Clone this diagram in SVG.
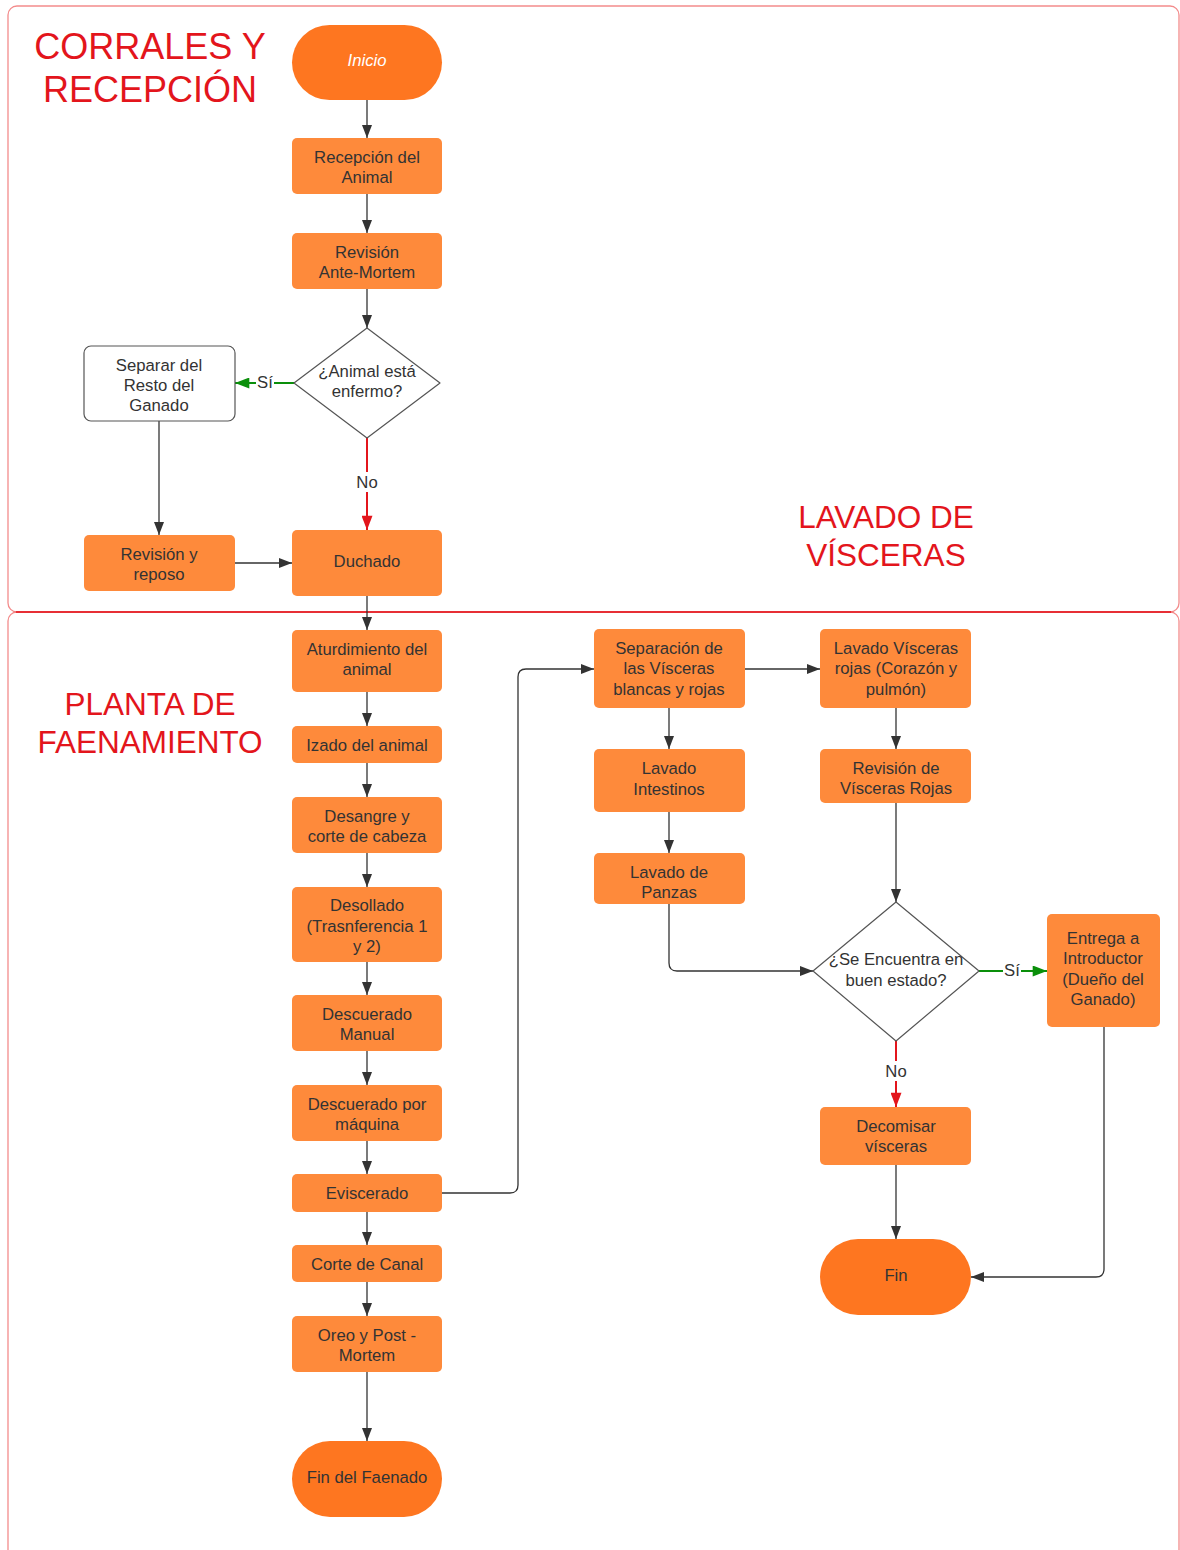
<svg xmlns="http://www.w3.org/2000/svg" width="1180" height="1550" viewBox="0 0 1180 1550">
<style>
.lane{fill:none;stroke:#ee5a5a;stroke-opacity:0.7;stroke-width:1.3}
.title{font-family:"Liberation Sans",Arial,sans-serif;fill:#e3151c;text-anchor:middle}
.box{fill:#fe8a3b}
.term{fill:#fe7620}
.white{fill:#fff;stroke:#555;stroke-width:1.2}
.t{font-family:"Liberation Sans",Arial,sans-serif;font-size:16.7px;fill:#333;text-anchor:middle}
.c{fill:none;stroke:#333;stroke-width:1.3}
.g{fill:none;stroke:#0a8f0a;stroke-width:2}
.r{fill:none;stroke:#e3151c;stroke-width:2}
.lbl{font-family:"Liberation Sans",Arial,sans-serif;font-size:16.7px;fill:#333;text-anchor:middle}
</style>
<defs>
<marker id="a" viewBox="0 0 13 10" markerWidth="13" markerHeight="10" markerUnits="userSpaceOnUse" refX="13" refY="5" orient="auto"><path d="M0,0L13,5L0,10z" fill="#333"/></marker>
<marker id="ag" viewBox="0 0 13 10" markerWidth="15" markerHeight="11" markerUnits="userSpaceOnUse" refX="13" refY="5" orient="auto"><path d="M0,0L13,5L0,10z" fill="#0a8f0a"/></marker>
<marker id="ar" viewBox="0 0 13 10" markerWidth="15" markerHeight="11" markerUnits="userSpaceOnUse" refX="13" refY="5" orient="auto"><path d="M0,0L13,5L0,10z" fill="#e3151c"/></marker>
</defs>

<g id="lanes">
<rect class="lane" x="8" y="6" width="1171" height="606" rx="9"/>
<rect class="lane" x="8" y="612" width="1171" height="960" rx="9"/>
<line x1="16" y1="612" x2="1171" y2="612" stroke="#e3151c" stroke-width="1.3"/>
<text class="title" font-size="36" x="150" y="59">CORRALES Y</text>
<text class="title" font-size="36" x="150" y="102">RECEPCIÓN</text>
<text class="title" font-size="31.5" x="886" y="528">LAVADO DE</text>
<text class="title" font-size="31.5" x="886" y="566">VÍSCERAS</text>
<text class="title" font-size="31.5" x="150" y="715">PLANTA DE</text>
<text class="title" font-size="31.5" x="150" y="753">FAENAMIENTO</text>
</g>

<g id="connectors">
<path class="c" d="M367,100V138" marker-end="url(#a)"/>
<path class="c" d="M367,194V233" marker-end="url(#a)"/>
<path class="c" d="M367,289V328" marker-end="url(#a)"/>
<path class="g" d="M294,383H235" marker-end="url(#ag)"/>
<rect x="256" y="373" width="18" height="18" fill="#fff"/>
<text class="lbl" x="265" y="388">Sí</text>
<path class="r" d="M367,438V530" marker-end="url(#ar)"/>
<rect x="354" y="472" width="26" height="20" fill="#fff"/>
<text class="lbl" x="367" y="488">No</text>
<path class="c" d="M159,421V535" marker-end="url(#a)"/>
<path class="c" d="M235,563H292" marker-end="url(#a)"/>
<path class="c" d="M367,596V630" marker-end="url(#a)"/>
<path class="c" d="M367,692V726" marker-end="url(#a)"/>
<path class="c" d="M367,763V797" marker-end="url(#a)"/>
<path class="c" d="M367,853V887" marker-end="url(#a)"/>
<path class="c" d="M367,962V995" marker-end="url(#a)"/>
<path class="c" d="M367,1051V1085" marker-end="url(#a)"/>
<path class="c" d="M367,1141V1174" marker-end="url(#a)"/>
<path class="c" d="M367,1212V1245" marker-end="url(#a)"/>
<path class="c" d="M367,1282V1316" marker-end="url(#a)"/>
<path class="c" d="M367,1372V1441" marker-end="url(#a)"/>
<path class="c" d="M442,1193H510Q518,1193 518,1185V677Q518,669 526,669H594" marker-end="url(#a)"/>
<path class="c" d="M745,669H820" marker-end="url(#a)"/>
<path class="c" d="M669,708V749" marker-end="url(#a)"/>
<path class="c" d="M669,812V853" marker-end="url(#a)"/>
<path class="c" d="M896,708V749" marker-end="url(#a)"/>
<path class="c" d="M896,803V902" marker-end="url(#a)"/>
<path class="c" d="M669,904V963Q669,971 677,971H813" marker-end="url(#a)"/>
<path class="g" d="M979,971H1047" marker-end="url(#ag)"/>
<rect x="1003" y="961" width="18" height="18" fill="#fff"/>
<text class="lbl" x="1012" y="976">Sí</text>
<path class="r" d="M896,1041V1107" marker-end="url(#ar)"/>
<rect x="883" y="1061" width="26" height="20" fill="#fff"/>
<text class="lbl" x="896" y="1077">No</text>
<path class="c" d="M896,1165V1239" marker-end="url(#a)"/>
<path class="c" d="M1104,1027V1269Q1104,1277 1096,1277H971" marker-end="url(#a)"/>
</g>

<g id="inicio"><rect class="term" x="292" y="25" width="150" height="75" rx="37.5"/><text class="t" x="367" y="66" style="fill:#fff;font-style:italic">Inicio</text></g>
<g id="recepcion"><rect class="box" x="292" y="138" width="150" height="56" rx="5"/><text class="t" x="367" y="163">Recepción del</text><text class="t" x="367" y="183">Animal</text></g>
<g id="antemortem"><rect class="box" x="292" y="233" width="150" height="56" rx="5"/><text class="t" x="367" y="258">Revisión</text><text class="t" x="367" y="278">Ante-Mortem</text></g>
<g id="enfermo"><path class="white" stroke-linejoin="round" d="M367,328L440,383L367,438L294,383Z"/><text class="t" x="367" y="377">¿Animal está</text><text class="t" x="367" y="397">enfermo?</text></g>
<g id="separar"><rect class="white" x="84" y="346" width="151" height="75" rx="7"/><text class="t" x="159" y="371">Separar del</text><text class="t" x="159" y="391">Resto del</text><text class="t" x="159" y="411">Ganado</text></g>
<g id="reposo"><rect class="box" x="84" y="535" width="151" height="56" rx="5"/><text class="t" x="159" y="560">Revisión y</text><text class="t" x="159" y="580">reposo</text></g>
<g id="duchado"><rect class="box" x="292" y="530" width="150" height="66" rx="5"/><text class="t" x="367" y="567">Duchado</text></g>
<g id="aturdimiento"><rect class="box" x="292" y="630" width="150" height="62" rx="5"/><text class="t" x="367" y="655">Aturdimiento del</text><text class="t" x="367" y="675">animal</text></g>
<g id="izado"><rect class="box" x="292" y="726" width="150" height="37" rx="5"/><text class="t" x="367" y="751">Izado del animal</text></g>
<g id="desangre"><rect class="box" x="292" y="797" width="150" height="56" rx="5"/><text class="t" x="367" y="822">Desangre y</text><text class="t" x="367" y="842">corte de cabeza</text></g>
<g id="desollado"><rect class="box" x="292" y="887" width="150" height="75" rx="5"/><text class="t" x="367" y="911">Desollado</text><text class="t" x="367" y="932">(Trasnferencia 1</text><text class="t" x="367" y="952">y 2)</text></g>
<g id="descuerado-manual"><rect class="box" x="292" y="995" width="150" height="56" rx="5"/><text class="t" x="367" y="1020">Descuerado</text><text class="t" x="367" y="1040">Manual</text></g>
<g id="descuerado-maquina"><rect class="box" x="292" y="1085" width="150" height="56" rx="5"/><text class="t" x="367" y="1110">Descuerado por</text><text class="t" x="367" y="1130">máquina</text></g>
<g id="eviscerado"><rect class="box" x="292" y="1174" width="150" height="38" rx="5"/><text class="t" x="367" y="1199">Eviscerado</text></g>
<g id="corte-canal"><rect class="box" x="292" y="1245" width="150" height="37" rx="5"/><text class="t" x="367" y="1270">Corte de Canal</text></g>
<g id="oreo"><rect class="box" x="292" y="1316" width="150" height="56" rx="5"/><text class="t" x="367" y="1341">Oreo y Post -</text><text class="t" x="367" y="1361">Mortem</text></g>
<g id="fin-faenado"><rect class="term" x="292" y="1441" width="150" height="76" rx="38"/><text class="t" x="367" y="1483">Fin del Faenado</text></g>
<g id="separacion"><rect class="box" x="594" y="629" width="151" height="79" rx="5"/><text class="t" x="669" y="654">Separación de</text><text class="t" x="669" y="674">las Vísceras</text><text class="t" x="669" y="695">blancas y rojas</text></g>
<g id="lavado-rojas"><rect class="box" x="820" y="629" width="151" height="79" rx="5"/><text class="t" x="896" y="654">Lavado Vísceras</text><text class="t" x="896" y="674">rojas (Corazón y</text><text class="t" x="896" y="695">pulmón)</text></g>
<g id="lavado-intestinos"><rect class="box" x="594" y="749" width="151" height="63" rx="5"/><text class="t" x="669" y="774">Lavado</text><text class="t" x="669" y="795">Intestinos</text></g>
<g id="revision-rojas"><rect class="box" x="820" y="749" width="151" height="54" rx="5"/><text class="t" x="896" y="774">Revisión de</text><text class="t" x="896" y="794">Vísceras Rojas</text></g>
<g id="lavado-panzas"><rect class="box" x="594" y="853" width="151" height="51" rx="5"/><text class="t" x="669" y="878">Lavado de</text><text class="t" x="669" y="898">Panzas</text></g>
<g id="buen-estado"><path class="white" stroke-linejoin="round" d="M896,902L979,971L896,1041L813,971Z"/><text class="t" x="896" y="965">¿Se Encuentra en</text><text class="t" x="896" y="986">buen estado?</text></g>
<g id="entrega"><rect class="box" x="1047" y="914" width="113" height="113" rx="5"/><text class="t" x="1103" y="944">Entrega a</text><text class="t" x="1103" y="964">Introductor</text><text class="t" x="1103" y="985">(Dueño del</text><text class="t" x="1103" y="1005">Ganado)</text></g>
<g id="decomisar"><rect class="box" x="820" y="1107" width="151" height="58" rx="5"/><text class="t" x="896" y="1132">Decomisar</text><text class="t" x="896" y="1152">vísceras</text></g>
<g id="fin"><rect class="term" x="820" y="1239" width="151" height="76" rx="38"/><text class="t" x="896" y="1281">Fin</text></g>
</svg>
